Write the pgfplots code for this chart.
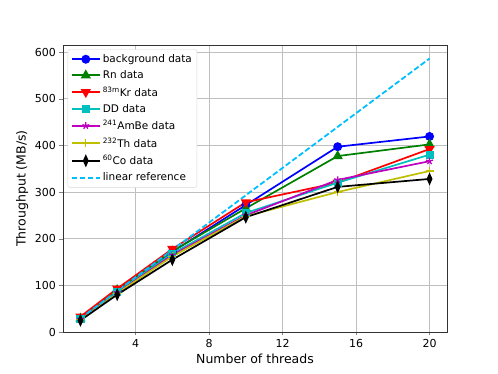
\documentclass[border=0pt]{standalone}
\usepackage{pgfplots}
\pgfplotsset{compat=1.18}
\usepackage{fontspec}
\setmainfont{DejaVu Sans}
\definecolor{mpgreen}{rgb}{0,0.5,0}
\definecolor{mpcyan}{rgb}{0,0.75,0.75}
\definecolor{mpmag}{rgb}{0.75,0,0.75}
\definecolor{mpyel}{rgb}{0.75,0.75,0}
\definecolor{skyblue}{RGB}{0,191,255}
\begin{document}
\begin{tikzpicture}
\begin{axis}[
  scale only axis,width=384pt,height=287pt,
  xmin=0.05,xmax=20.95,ymin=0,ymax=615,
  xtick={4,8,12,16,20},ytick={0,100,...,600},
  tick align=outside,tick pos=left,
  major tick length=3.5pt,
  grid=major,grid style={gray!50,line width=0.8pt},
  axis line style={black!80,line width=0.8pt},
  /pgf/number format/assume math mode=true,
  tick label style={font=\fontsize{11}{13}\selectfont},
  xlabel={Number of threads},ylabel={Throughput (MB/s)},
  label style={font=\fontsize{12.5}{14}\selectfont},
  legend style={at={(0.012,0.985)},anchor=north west,
    font=\fontsize{10.5}{12}\selectfont,draw=black!15,rounded corners=2pt,
    row sep=2.6pt,inner sep=3pt},
  legend cell align=left,
  every axis plot/.append style={line width=1.7pt},
  legend image code/.code={\draw[mark repeat=2,mark phase=2] plot coordinates {(0pt,0pt)(14pt,0pt)(28pt,0pt)};},
]
\addplot[blue,mark=*,mark size=3.6pt] coordinates {(1,28)(3,88)(6,172)(10,272)(15,397)(20,419)};
\addplot[mpgreen,mark=triangle*,mark size=4.2pt] coordinates {(1,29)(3,90)(6,173)(10,265)(15,377)(20,402)};
\addplot[red,mark=triangle*,mark options={rotate=180},mark size=4.2pt] coordinates {(1,33)(3,93)(6,178)(10,278)(15,320)(20,392)};
\addplot[mpcyan,mark=square*,mark size=3.2pt] coordinates {(1,28)(3,86)(6,168)(10,255)(15,320)(20,380)};
\addplot[mpmag,mark=star,mark size=3.6pt,mark options={line width=1.3pt}] coordinates {(1,27)(3,84)(6,165)(10,250)(15,326)(20,366)};
\addplot[mpyel,mark=+,mark size=4pt,mark options={line width=1.2pt}] coordinates {(1,26)(3,83)(6,162)(10,248)(15,300)(20,345)};
\addplot[black,mark=diamond*,mark size=4.5pt,mark options={xscale=0.6}] coordinates {(1,25)(3,80)(6,155)(10,246)(15,311)(20,328)};
\addplot[skyblue,line width=1.8pt,dash pattern=on 5.5pt off 2.5pt,
  legend image code/.code={\draw[skyblue,line width=2pt,dash pattern=on 5.5pt off 2.5pt] (0pt,0pt) -- (28pt,0pt);}]
  coordinates {(1,29.3)(3,87.9)(6,175.8)(10,293)(15,439.5)(20,586)};
\legend{background data,Rn data,\textsuperscript{83m}Kr data,DD data,\textsuperscript{241}AmBe data,\textsuperscript{232}Th data,\textsuperscript{60}Co data,linear reference}
\end{axis}
\pgfresetboundingbox
\path (-63pt,-42pt) rectangle (435pt,332pt);
\end{tikzpicture}
\end{document}
